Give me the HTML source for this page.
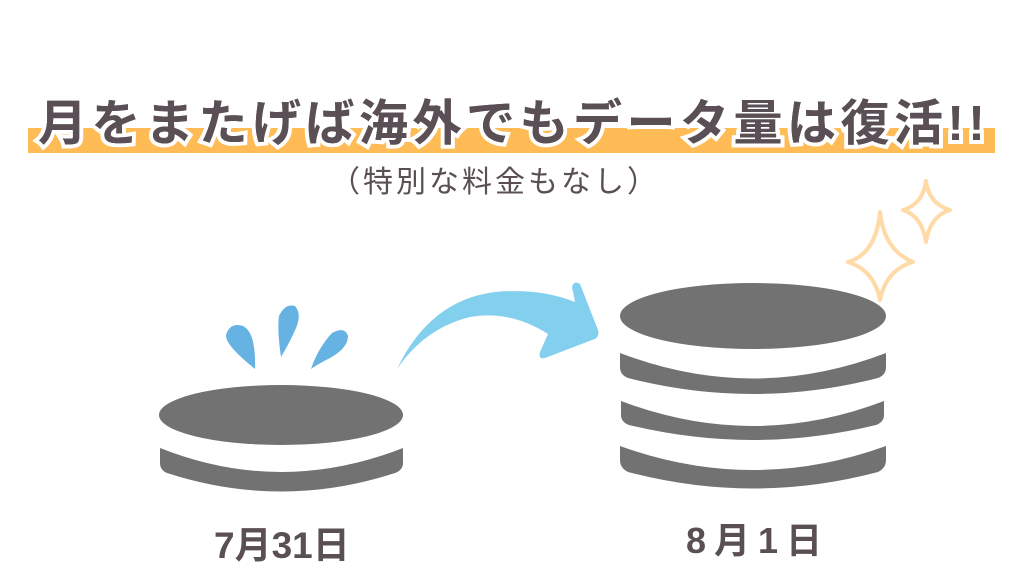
<!DOCTYPE html>
<html><head><meta charset="utf-8"><style>
body{margin:0;width:1024px;height:576px;background:#fff;overflow:hidden;position:relative;font-family:"Liberation Sans","Noto Sans CJK JP",sans-serif;}
.t{position:absolute;color:#5a4f55;font-weight:bold;white-space:nowrap;}
</style></head><body>
<div style="position:absolute;left:28px;top:128px;width:967px;height:25px;background:#ffbb55"></div>
<div class="t" style="left:38px;top:84px;font-size:49px;letter-spacing:4.5px;-webkit-text-stroke:8px #fff;paint-order:stroke fill;">月をまたげば海外でもデータ量は復活!!</div>
<div class="t" style="left:38px;top:84px;font-size:49px;letter-spacing:4.5px;">月をまたげば海外でもデータ量は復活!!</div>
<div class="t" style="left:330px;top:157px;font-size:30px;letter-spacing:3px;font-weight:normal;">（特別な料金もなし）</div>
<div class="t" style="left:214px;top:515px;font-size:37px;">7月31日</div>
<div class="t" style="left:686px;top:512px;font-size:36px;letter-spacing:8px;">8月1日</div>
<svg width="1024" height="576" style="position:absolute;left:0;top:0">
<g fill="#727272">
<ellipse cx="281" cy="415" rx="122" ry="30"/>
<path d="M160 448 Q281 496 403 448 L403 463 Q403 470 395 473 Q281 510 167 473 Q160 470 160 463Z"/>
<ellipse cx="753" cy="316" rx="133" ry="33"/>
<path d="M620 353 Q753 404 886 353 L886 367 Q886 375 878 378 Q753 410 628 378 Q620 375 620 367Z"/>
<path d="M621 401 Q753 451 884 401 L884 415 Q884 422 876 425 Q753 455 629 425 Q621 422 621 415Z"/>
<path d="M620 446 Q753 494 886 446 L886 460 Q886 468 878 472 Q753 505 628 472 Q620 468 620 460Z"/>
</g>
<g fill="#66b3e3">
<path d="M255 369 Q225 345 226 335 Q230 322 243 326 Q256 332 255 369Z"/>
<path d="M281 357 Q277 330 279 316 Q285 303 295 306 Q302 314 296 328 Q290 342 281 357Z"/>
<path d="M311 369 Q318 348 332 333 Q345 326 348 336 Q348 348 330 358 Q318 364 311 369Z"/>
</g>
<path fill="#82cfee" d="M397 369 Q430 300 495 292 Q540 288 575 302 L572 287 Q574 280 580 284 L598 330 Q600 338 592 340 L545 358 Q538 360 540 352 L548 334 Q510 310 470 317 Q425 328 397 369Z"/>
<g fill="none" stroke="#ffd9a6" stroke-width="4" stroke-linejoin="round">
<path d="M880 212 Q884 250 913 262 Q886 270 880 300 Q874 270 848 262 Q876 254 880 212Z"/>
<path d="M926 181 Q929 204 950 210 Q930 216 926 242 Q922 216 903 210 Q923 204 926 181Z"/>
</g>
</svg>
</body></html>
